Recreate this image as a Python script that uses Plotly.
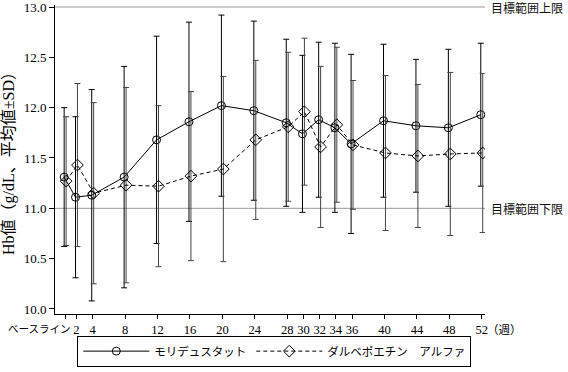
import numpy as np
import plotly.graph_objects as go

# ---- data ----
week_pos = [0.6, 2, 4, 8, 12, 16, 20, 24, 28, 30, 32, 34, 36, 40, 44, 48, 52]
tick_labels = ["ベースライン", "2", "4", "8", "12", "16", "20", "24", "28", "30",
               "32", "34", "36", "40", "44", "48", "52"]
series_names = ["モリデュスタット", "ダルベポエチン　アルファ"]
moridu_mean = [11.31, 11.11, 11.13, 11.31, 11.68, 11.86, 12.02, 11.97, 11.85, 11.74,
               11.88, 11.80, 11.64, 11.87, 11.82, 11.80, 11.93]
moridu_sd = [0.69, 0.80, 1.05, 1.10, 1.03, 0.99, 0.90, 0.89, 0.83, 0.78,
             0.77, 0.84, 0.89, 0.76, 0.66, 0.78, 0.71]
dalbe_mean = [11.27, 11.43, 11.15, 11.23, 11.22, 11.32, 11.39, 11.68, 11.81, 11.96,
              11.61, 11.83, 11.63, 11.55, 11.52, 11.54, 11.55]
dalbe_sd = [0.64, 0.81, 0.90, 0.97, 0.80, 0.84, 0.92, 0.79, 0.74, 0.73,
            0.80, 0.77, 0.64, 0.77, 0.71, 0.81, 0.79]
target_vals = [13.0, 11.0]
target_labels = ["目標範囲上限", "目標範囲下限"]
y_ticks = [10.0, 10.5, 11.0, 11.5, 12.0, 12.5, 13.0]

SERIF = "Liberation Serif, Noto Sans CJK JP"
JP = "Noto Sans CJK JP"
offset = 0.12
x = np.array(week_pos, dtype=float)

fig = go.Figure()

# target range lines
for v in target_vals:
    fig.add_shape(type="line", xref="paper", x0=0, x1=1, yref="y", y0=v, y1=v,
                  line=dict(color="#9a9a9a", width=1), layer="below")
for v, t in zip(target_vals, target_labels):
    fig.add_annotation(xref="paper", x=1, y=v, yref="y", text=t, showarrow=False,
                       xanchor="left", xshift=4, font=dict(family=JP, size=12, color="#111"))

fig.add_trace(go.Scatter(
    x=x - offset, y=moridu_mean, name=series_names[0], mode="lines+markers",
    line=dict(color="black", width=1),
    marker=dict(symbol="circle-open", size=8, color="black", line=dict(width=1)),
    error_y=dict(type="data", array=moridu_sd, visible=True, color="black",
                 thickness=1, width=3),
))
fig.add_trace(go.Scatter(
    x=x + offset, y=dalbe_mean, name=series_names[1], mode="lines+markers",
    line=dict(color="black", width=1, dash="4px,3px"),
    marker=dict(symbol="diamond-open", size=9, color="black", line=dict(width=1)),
    error_y=dict(type="data", array=dalbe_sd, visible=True, color="#444",
                 thickness=1, width=3),
))

# baseline tick label, right-aligned at its tick
fig.add_annotation(x=week_pos[0], xref="x", y=0, yref="paper", text=tick_labels[0],
                   showarrow=False, xanchor="right", yanchor="top", xshift=7, yshift=-5,
                   font=dict(family=JP, size=10.5, color="black"))
# unit label
fig.add_annotation(x=1, xref="paper", y=0, yref="paper", text="（週）",
                   showarrow=False, xanchor="left", yanchor="top", xshift=0, yshift=-5,
                   font=dict(family=JP, size=11.5, color="black"))

fig.update_xaxes(
    range=[-0.65, 52.4], tickmode="array", tickvals=week_pos,
    ticktext=[""] + tick_labels[1:], automargin=False,
    showline=True, linecolor="black", linewidth=1, ticks="outside", ticklen=4,
    tickcolor="black", showgrid=False, zeroline=False,
    tickfont=dict(family=SERIF, size=12.5, color="black"),
)
fig.update_yaxes(
    range=[9.95, 13.02], tickmode="array", tickvals=y_ticks,
    ticktext=[f"{v:.1f}" for v in y_ticks], automargin=False,
    ticklabeloverflow="allow",
    showline=True, linecolor="black", linewidth=1, ticks="outside", ticklen=5,
    tickcolor="black", showgrid=False, zeroline=False,
    tickfont=dict(family=SERIF, size=13, color="black"),
    title=dict(text="Hb値（g/dL、平均値±SD）", font=dict(family=SERIF, size=16, color="black"),
               standoff=5),
)

fig.update_layout(
    width=568, height=372,
    margin=dict(l=55, r=83, t=5, b=54),
    plot_bgcolor="white", paper_bgcolor="white",
    showlegend=True,
    legend=dict(orientation="h", x=0.51, xanchor="center", y=-0.07, yanchor="top",
                bordercolor="black", borderwidth=1, bgcolor="white",
                itemwidth=66, font=dict(family=JP, size=11.5, color="black"),
                tracegroupgap=0),
)

fig.write_html("out.html", config={"displayModeBar": False},
               post_script="document.body.style.margin='0';document.body.style.padding='0';")
